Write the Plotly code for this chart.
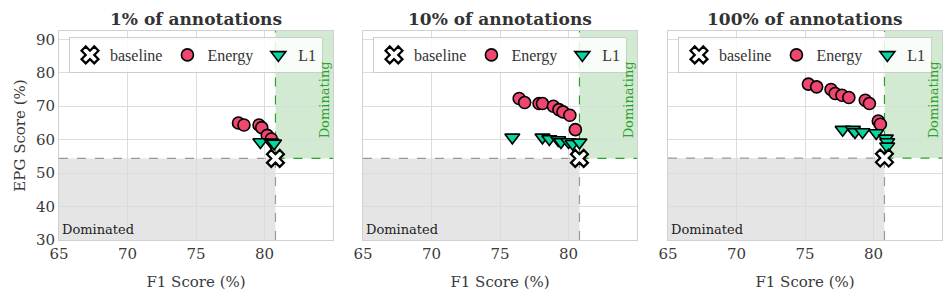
import plotly.graph_objects as go

# ---------------- data ----------------
panel_titles = ["1% of annotations", "10% of annotations", "100% of annotations"]

baseline_f1 = [80.8, 80.8, 80.8]
baseline_epg = [54.4, 54.4, 54.5]

energy_f1_1 = [78.1, 78.5, 79.6, 79.8, 80.2, 80.5]
energy_epg_1 = [65.0, 64.4, 64.4, 63.6, 61.3, 60.2]
l1_f1_1 = [79.7, 80.5, 80.7]
l1_epg_1 = [59.3, 59.2, 58.9]

energy_f1_2 = [76.4, 76.8, 77.85, 78.1, 78.9, 79.3, 79.6, 80.1, 80.5]
energy_epg_2 = [72.3, 71.1, 70.8, 70.8, 70.0, 69.0, 68.3, 67.3, 63.0]
l1_f1_2 = [75.9, 78.1, 78.6, 79.25, 79.45, 80.0, 80.3, 80.8]
l1_epg_2 = [60.7, 60.7, 60.2, 59.9, 59.3, 59.3, 58.8, 59.2]

energy_f1_3 = [75.25, 75.85, 76.9, 77.2, 77.7, 78.2, 79.4, 79.7, 80.35, 80.5]
energy_epg_3 = [76.6, 75.8, 75.0, 73.8, 73.3, 72.6, 71.8, 70.8, 65.6, 64.6]
l1_f1_3 = [77.75, 78.5, 78.65, 79.2, 80.2, 80.9, 81.0, 81.0]
l1_epg_3 = [63.0, 63.0, 62.3, 62.3, 62.0, 60.4, 59.3, 58.0]

energy_f1 = [energy_f1_1, energy_f1_2, energy_f1_3]
energy_epg = [energy_epg_1, energy_epg_2, energy_epg_3]
l1_f1 = [l1_f1_1, l1_f1_2, l1_f1_3]
l1_epg = [l1_epg_1, l1_epg_2, l1_epg_3]

x_ticks = [65, 70, 75, 80]
y_ticks = [30, 40, 50, 60, 70, 80, 90]
x_range = [65, 85]
y_range = [30, 92.5]

# ---------------- styling ----------------
FONT = "DejaVu Serif"
LEGEND_FONT = "Liberation Serif"
PINK = "#EF476F"
TEAL = "#06D6A0"
GREEN = "#2ca02c"
TEXT = "#3a3a3a"

# the page body has an 8px margin; lay the figure out in page pixels
OFF = 8
W, H = 951 - OFF, 299 - OFF
# page-pixel edges of the plot areas
P_LEFT, P_RIGHT, P_TOP, P_BOTTOM = 59, 942, 31, 240
ML, MR = P_LEFT - OFF, (951 - P_RIGHT)
MT, MB = P_TOP - OFF, 299 - P_BOTTOM
PW, PH = W - ML - MR, H - MT - MB

def px_x(px):
    return (px - P_LEFT) / PW

def px_y(py):
    return (P_BOTTOM - py) / PH

x_domains = [[px_x(59), px_x(333)], [px_x(363), px_x(637)], [px_x(668), px_x(942)]]
y_domain = [0, 1]

fig = go.Figure()
legend_names = ["legend", "legend2", "legend3"]

for i in range(3):
    xa = "x" if i == 0 else f"x{i+1}"
    ya = "y" if i == 0 else f"y{i+1}"
    lg = legend_names[i]
    fig.add_trace(go.Scatter(
        x=energy_f1[i], y=energy_epg[i], mode="markers", name="Energy",
        xaxis=xa, yaxis=ya, legend=lg, legendrank=2,
        marker=dict(symbol="circle", size=12, color=PINK, line=dict(color="black", width=1.6)),
    ))
    fig.add_trace(go.Scatter(
        x=l1_f1[i], y=l1_epg[i], mode="markers", name="L1",
        xaxis=xa, yaxis=ya, legend=lg, legendrank=3,
        marker=dict(symbol="triangle-down", size=13, color=TEAL, line=dict(color="black", width=1.6)),
    ))
    fig.add_trace(go.Scatter(
        x=[baseline_f1[i]], y=[baseline_epg[i]], mode="markers", name="baseline",
        xaxis=xa, yaxis=ya, legend=lg, legendrank=1,
        marker=dict(symbol="x", size=15, color="white", line=dict(color="black", width=2.2)),
    ))

    bx, by = baseline_f1[i], baseline_epg[i]
    # shaded regions
    fig.add_shape(type="rect", xref=xa, yref=ya, x0=x_range[0], x1=bx, y0=y_range[0], y1=by,
                  fillcolor="rgba(160,160,160,0.28)", line=dict(width=0), layer="below")
    fig.add_shape(type="rect", xref=xa, yref=ya, x0=bx, x1=x_range[1], y0=by, y1=y_range[1],
                  fillcolor="rgba(44,160,44,0.22)", line=dict(width=0), layer="below")
    # dashed lines
    fig.add_shape(type="line", xref=xa, yref=ya, x0=x_range[0], x1=bx, y0=by, y1=by,
                  line=dict(color="#999999", width=1.2, dash="dash"), layer="below")
    fig.add_shape(type="line", xref=xa, yref=ya, x0=bx, x1=bx, y0=y_range[0], y1=by,
                  line=dict(color="#999999", width=1.2, dash="dash"), layer="below")
    fig.add_shape(type="line", xref=xa, yref=ya, x0=bx, x1=x_range[1], y0=by, y1=by,
                  line=dict(color=GREEN, width=1.2, dash="dash"), layer="below")
    fig.add_shape(type="line", xref=xa, yref=ya, x0=bx, x1=bx, y0=by, y1=y_range[1],
                  line=dict(color=GREEN, width=1.2, dash="dash"), layer="below")

    # labels
    fig.add_annotation(xref=xa, yref=ya, x=x_range[0] + 0.1, y=y_range[0] + 0.4, text="Dominated",
                       showarrow=False, xanchor="left", yanchor="bottom",
                       font=dict(family=FONT, size=13, color="#222222"))
    fig.add_annotation(xref=xa, yref=ya, x=x_range[1] - 0.6, y=72.0, text="Dominating",
                       showarrow=False, textangle=-90, xanchor="center", yanchor="middle",
                       font=dict(family=FONT, size=13, color=GREEN))
    # title
    fig.add_annotation(xref="paper", yref="paper", x=sum(x_domains[i]) / 2, y=px_y(19),
                       text=f"<b>{panel_titles[i]}</b>", showarrow=False,
                       xanchor="center", yanchor="middle", borderpad=0,
                       font=dict(family=FONT, size=17, color="#333333"))

    axis_common = dict(showline=True, linecolor="#d0d0d0", linewidth=1, mirror=True,
                       showgrid=True, gridcolor="#dcdcdc", gridwidth=1, zeroline=False,
                       automargin=False,
                       ticks="", tickfont=dict(family=FONT, size=15, color=TEXT))
    fig.update_layout(**{
        ("xaxis" if i == 0 else f"xaxis{i+1}"): dict(
            domain=x_domains[i], range=x_range, tickvals=x_ticks, anchor=ya,
            title=dict(text="F1 Score (%)", font=dict(family=FONT, size=15, color=TEXT), standoff=14),
            **axis_common),
        ("yaxis" if i == 0 else f"yaxis{i+1}"): dict(
            domain=y_domain, range=y_range, tickvals=y_ticks, anchor=xa,
            showticklabels=(i == 0),
            title=dict(text="EPG Score (%)" if i == 0 else "", font=dict(family=FONT, size=15, color=TEXT), standoff=6),
            **axis_common),
    })

    legend_cfg = dict(
        x=x_domains[i][0] + 10 / PW, y=px_y(37), xanchor="left", yanchor="top",
        orientation="h", bgcolor="rgba(255,255,255,0.85)", bordercolor="#cccccc", borderwidth=1,
        font=dict(family=LEGEND_FONT, size=16, color="#333333"), traceorder="normal",
        itemwidth=30, tracegroupgap=0,
    )
    fig.update_layout(**{lg: legend_cfg})

fig.update_layout(
    width=W, height=H, margin=dict(l=ML, r=MR, t=MT, b=MB, autoexpand=False),
    paper_bgcolor="white", plot_bgcolor="white", showlegend=True,
)

fig.write_html("out.html")
